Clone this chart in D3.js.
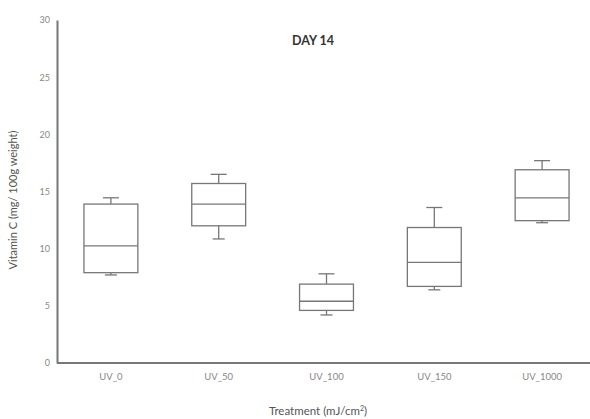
<!DOCTYPE html>
<html>
<head>
<meta charset="utf-8">
<script src="https://cdn.jsdelivr.net/npm/d3@7"></script>
<style>
  body { margin: 0; background: #fff; }
  text { font-family: Lato, "Open Sans", sans-serif; }
</style>
</head>
<body>
<svg id="chart"></svg>
<script>
// values
const categories = ["UV_0", "UV_50", "UV_100", "UV_150", "UV_1000"];
const whiskerLow = [7.7, 10.85, 4.2, 6.4, 12.27];
const q1 = [7.9, 12.0, 4.6, 6.7, 12.45];
const median = [10.25, 13.9, 5.4, 8.8, 14.45];
const q3 = [13.9, 15.7, 6.9, 11.85, 16.9];
const whiskerHigh = [14.45, 16.5, 7.8, 13.6, 17.7];
const yTicks = [0, 5, 10, 15, 20, 25, 30];

const width = 590, height = 419;
const margin = {top: 20, right: -6, bottom: 56, left: 57};

const svg = d3.select("#chart").attr("width", width).attr("height", height);

const x = d3.scaleBand()
    .domain(categories)
    .range([margin.left, width - margin.right])
    .paddingInner(0.5)
    .paddingOuter(0.25);

const y = d3.scaleLinear()
    .domain([0, 30])
    .range([height - margin.bottom, margin.top]);

const data = categories.map((c, i) => ({
    cat: c, lo: whiskerLow[i], q1: q1[i], med: median[i], q3: q3[i], hi: whiskerHigh[i]
}));

const boxColor = "#777";
const bw = x.bandwidth();
const capW = 16;

const g = svg.append("g");
const boxes = g.selectAll("g.box").data(data).join("g").attr("class", "box")
    .attr("transform", d => `translate(${x(d.cat)},0)`);

// whiskers
boxes.append("line")
    .attr("x1", bw / 2).attr("x2", bw / 2)
    .attr("y1", d => y(d.hi)).attr("y2", d => y(d.q3))
    .attr("stroke", boxColor).attr("stroke-width", 1.3);
boxes.append("line")
    .attr("x1", bw / 2).attr("x2", bw / 2)
    .attr("y1", d => y(d.q1)).attr("y2", d => y(d.lo))
    .attr("stroke", boxColor).attr("stroke-width", 1.3);
boxes.append("line")
    .attr("x1", bw / 2 - capW / 2).attr("x2", bw / 2 + capW / 2)
    .attr("y1", d => y(d.hi)).attr("y2", d => y(d.hi))
    .attr("stroke", boxColor).attr("stroke-width", 1.3);
boxes.append("line")
    .attr("x1", bw / 2 - capW / 2 + 2).attr("x2", bw / 2 + capW / 2 - 2)
    .attr("y1", d => y(d.lo)).attr("y2", d => y(d.lo))
    .attr("stroke", boxColor).attr("stroke-width", 1.3);

// box
boxes.append("rect")
    .attr("x", 0).attr("width", bw)
    .attr("y", d => y(d.q3))
    .attr("height", d => y(d.q1) - y(d.q3))
    .attr("fill", "none").attr("stroke", boxColor).attr("stroke-width", 1.3);
boxes.append("line")
    .attr("x1", 0).attr("x2", bw)
    .attr("y1", d => y(d.med)).attr("y2", d => y(d.med))
    .attr("stroke", boxColor).attr("stroke-width", 1.3);

// axes
const yAxis = svg.append("g")
    .attr("transform", `translate(${margin.left},0)`)
    .call(d3.axisLeft(y).tickValues(yTicks).tickSize(0).tickPadding(7));
yAxis.select(".domain").attr("stroke", "#777").attr("stroke-width", 2);
yAxis.selectAll("text").attr("fill", "#888").style("font-size", "9px");

const xAxis = svg.append("g")
    .attr("transform", `translate(0,${y(0)})`)
    .call(d3.axisBottom(x).tickSize(0).tickPadding(10));
xAxis.select(".domain").attr("stroke", "#777").attr("stroke-width", 2)
    .attr("d", `M${margin.left},0H${width}`);
xAxis.selectAll("text").attr("fill", "#888").style("font-size", "9.5px");

// title and axis labels
svg.append("text")
    .attr("x", 313).attr("y", 45)
    .attr("text-anchor", "middle")
    .attr("fill", "#333")
    .style("font-size", "12.5px").style("font-weight", "bold")
    .text("DAY 14");

const xl = svg.append("text")
    .attr("x", 318).attr("y", 415)
    .attr("text-anchor", "middle")
    .attr("fill", "#555")
    .style("font-size", "11.5px")
    .text("Treatment (mJ/cm");
xl.append("tspan").attr("baseline-shift", "super").style("font-size", "7px").text("2");
xl.append("tspan").text(")");

svg.append("text")
    .attr("transform", "translate(17,200) rotate(-90)")
    .attr("text-anchor", "middle")
    .attr("fill", "#555")
    .style("font-size", "11px")
    .text("Vitamin C (mg/ 100g weight)");
</script>
</body>
</html>
